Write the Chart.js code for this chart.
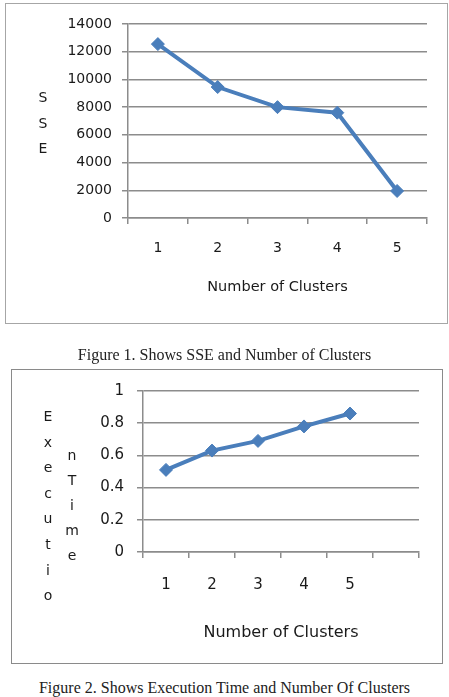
<!DOCTYPE html>
<html>
<head>
<meta charset="utf-8">
<script src="https://cdn.jsdelivr.net/npm/chart.js@4.4.1/dist/chart.umd.min.js"></script>
<style>
  html, body { margin: 0; padding: 0; background: #fff; }
  body { width: 449px; height: 697px; position: relative; overflow: hidden; }
  .frame { position: absolute; box-sizing: border-box; }
  #frame1 { left: 5px; top: 3px; width: 443px; height: 321px; border: 1px solid #a6a6a6; }
  #frame2 { left: 11px; top: 369px; width: 432px; height: 295px; border: 1.5px solid #8a8a8a; }
  canvas { position: absolute; left: 0; }
  #c1 { top: 0; }
  #c2 { top: 330px; }
  .vt { position: absolute; font-family: "DejaVu Sans", sans-serif; font-size: 14px; color: #1a1a1a;
        text-align: center; width: 20px; line-height: 25.5px; }
  .cap { position: absolute; left: 0; width: 449px; text-align: center;
         font-family: "Liberation Serif", "Times New Roman", serif; font-size: 16px; color: #222; }
</style>
</head>
<body>
<div class="frame" id="frame1"></div>
<div class="frame" id="frame2"></div>
<canvas id="c1" width="449" height="330"></canvas>
<canvas id="c2" width="449" height="340"></canvas>
<div class="vt" style="left:33px; top:85px;">S<br>S<br>E</div>
<div class="vt" style="left:38px; top:404px; line-height:25.6px;">E<br>x<br>e<br>c<br>u<br>t<br>i<br>o</div>
<div class="vt" style="left:62px; top:443px; line-height:25px;">n<br>T<br>i<br>m<br>e</div>
<div class="cap" style="top:346px;">Figure 1. Shows SSE and Number of Clusters</div>
<div class="cap" style="top:679px;">Figure 2. Shows Execution Time and Number Of Clusters</div>
<script>
// ---- data ----
const clusters1 = ['1', '2', '3', '4', '5'];
const sseValues = [12550, 9450, 8000, 7600, 1950];
const sseTicks = [0, 2000, 4000, 6000, 8000, 10000, 12000, 14000];

const clusters2 = ['1', '2', '3', '4', '5', ''];
const execTime = [0.51, 0.63, 0.69, 0.78, 0.86, null];
const timeTicks = [0, 0.2, 0.4, 0.6, 0.8, 1];

const xTitle = 'Number of Clusters';

// ---- styles ----
const BLUE = '#4a7ebb';
const GRID = '#8c8c8c';
const FONT = '"DejaVu Sans", sans-serif';

function makeChart(id, labels, data, ticksArr, cfg) {
  return new Chart(document.getElementById(id), {
    type: 'line',
    data: {
      labels: labels,
      datasets: [{
        data: data,
        borderColor: BLUE,
        backgroundColor: BLUE,
        borderWidth: 4,
        pointStyle: 'rectRot',
        pointRadius: 6.5,
        pointBorderWidth: 1,
        pointBackgroundColor: BLUE,
        pointBorderColor: BLUE,
        tension: 0,
        spanGaps: false
      }]
    },
    options: {
      responsive: false,
      devicePixelRatio: 1,
      animation: false,
      events: [],
      layout: { padding: cfg.padding },
      plugins: { legend: { display: false }, tooltip: { enabled: false }, title: { display: false } },
      scales: {
        x: {
          type: 'category',
          offset: true,
          grid: { offset: true, drawOnChartArea: false, drawTicks: true, tickLength: 6, color: GRID, lineWidth: 1.5 },
          border: { display: true, color: GRID, width: 1.5 },
          ticks: { padding: cfg.xPad, color: '#1a1a1a', font: { family: FONT, size: cfg.tickSize }, maxRotation: 0, autoSkip: false },
          title: { display: true, text: xTitle, color: '#1a1a1a', font: { family: FONT, size: cfg.titleSize }, padding: { top: 0, bottom: cfg.titlePadB } },
          afterFit: s => { s.height = cfg.xHeight; }
        },
        y: {
          min: 0,
          max: ticksArr[ticksArr.length - 1],
          afterBuildTicks: s => { s.ticks = ticksArr.map(v => ({ value: v })); },
          grid: { drawTicks: true, tickLength: 6, color: GRID, lineWidth: 1.5 },
          border: { display: true, color: GRID, width: 1.5 },
          ticks: { padding: cfg.yPad, color: '#1a1a1a', font: { family: FONT, size: cfg.tickSize },
                   callback: v => String(v) },
          afterFit: s => { s.width = cfg.yWidth; }
        }
      }
    }
  });
}

makeChart('c1', clusters1, sseValues, sseTicks, {
  padding: { left: 0, right: 22, top: 24, bottom: 32 },
  yWidth: 128, yPad: 10, xPad: 16, xHeight: 80, titlePadB: 2,
  tickSize: 14, titleSize: 14.5
});

makeChart('c2', clusters2, execTime, timeTicks, {
  padding: { left: 0, right: 30, top: 61, bottom: 24 },
  yWidth: 143, yPad: 13, xPad: 18, xHeight: 94, titlePadB: 4,
  tickSize: 15, titleSize: 16
});
</script>
</body>
</html>
